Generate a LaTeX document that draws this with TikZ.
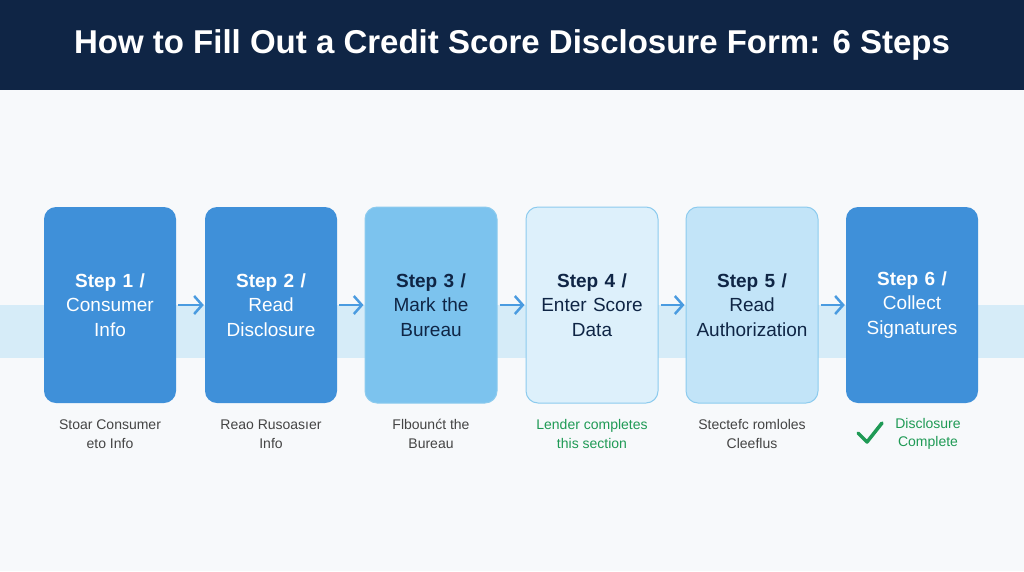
\documentclass[tikz,border=0pt]{standalone}
\usepackage{fontspec}
\setmainfont{Liberation Sans}
\usetikzlibrary{arrows.meta}
\definecolor{navy}{HTML}{0F2545}
\definecolor{bandc}{HTML}{D6ECF8}
\definecolor{bA}{HTML}{3F90D9}
\definecolor{bB}{HTML}{7CC3EE}
\definecolor{bC}{HTML}{DDF0FB}
\definecolor{bD}{HTML}{C2E4F8}
\definecolor{edgeC}{HTML}{8CCBEE}
\definecolor{arr}{HTML}{4A9BE0}
\definecolor{grn}{HTML}{1F9A55}
\definecolor{capc}{HTML}{444444}
\definecolor{bgc}{HTML}{F7F9FB}
\tikzset{
 stepbox/.style={rounded corners=12pt,inner sep=0pt,minimum width=132pt,minimum height=196pt,align=center,font=\fontsize{19}{24.5}\selectfont,text width=130pt},
 dk/.style={stepbox,fill=bA,text=white},
 lt/.style={stepbox,draw=edgeC,line width=1pt,text=navy},
 captxt/.style={align=center,font=\fontsize{14}{18.5}\selectfont,text=capc},
 flow/.style={-{Straight Barb[length=8pt,width=18pt]},line width=2.5pt,draw=arr}
}
\begin{document}
\begin{tikzpicture}[x=1pt,y=-1pt]
\useasboundingbox (0,0) rectangle (1024,571);
\fill[bgc] (0,0) rectangle (1024,571);
\fill[navy] (0,0) rectangle (1024,90);
\node[text=white,font=\bfseries\fontsize{33}{38}\selectfont] (title) at (512,45) {How to Fill Out a Credit Score Disclosure Form: 6 Steps};
\fill[bandc] (0,305) rectangle (1024,358);
\node[dk] (s1) at (110,305) {\textbf{Step 1 /}\\Consumer\\Info};
\node[dk] (s2) at (271,305) {\textbf{Step 2 /}\\Read\\Disclosure};
\node[lt,fill=bB] (s3) at (431,305) {\textbf{Step 3 /}\\Mark the\\Bureau};
\node[lt,fill=bC] (s4) at (592,305) {\textbf{Step 4 /}\\Enter Score\\Data};
\node[lt,fill=bD] (s5) at (752,305) {\textbf{Step 5 /}\\Read\\Authorization};
\node[dk] (s6) at (912,305) {\textbf{Step 6 /}\\Collect\\Signatures};
\foreach \a/\b in {s1/s2,s2/s3,s3/s4,s4/s5,s5/s6}
  \draw[flow] ([xshift=2pt]\a.east) -- ([xshift=-1pt]\b.west);
\node[captxt] (c1) at (110,434) {Stoar Consumer\\eto Info};
\node[captxt] (c2) at (271,434) {Reao Rusoasıer\\Info};
\node[captxt] (c3) at (431,434) {Flbounćt the\\Bureau};
\node[captxt,text=grn] (c4) at (592,434) {Lender completes\\this section};
\node[captxt] (c5) at (752,434) {Stectefc romloles\\Cleeflus};
\node[captxt,text=grn] (c6) at (928,434) {Disclosure\\Complete};
\draw[grn,line width=3.5pt,line cap=round,line join=round] (858,433) -- (867,442) -- (882,423);
\end{tikzpicture}
\end{document}
